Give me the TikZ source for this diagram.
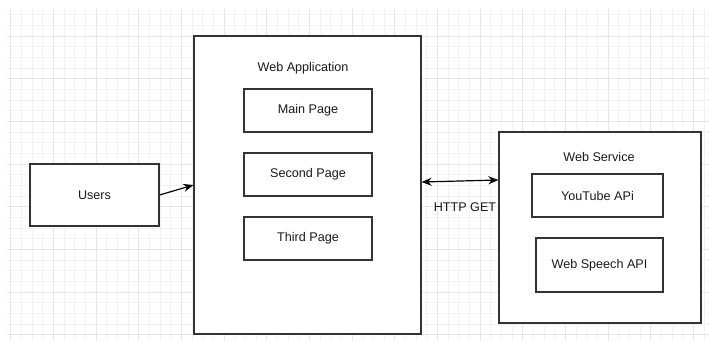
\documentclass[tikz,border=0pt]{standalone}
\usepackage{fontspec}
\setmainfont{Liberation Sans}
\usetikzlibrary{arrows.meta}
\definecolor{boxline}{HTML}{333333}
\definecolor{gridminor}{HTML}{F2F2F2}
\definecolor{gridmajor}{HTML}{E6E6E6}
\definecolor{txt}{HTML}{1A1A1A}
\tikzset{
  box/.style={draw=boxline, line width=1.2pt, fill=white, inner sep=0pt, text=txt, font=\fontsize{12.6}{15}\selectfont},
  lbl/.style={inner sep=0pt, text=txt, font=\fontsize{12.6}{15}\selectfont},
  arr/.style={line width=1.2pt, -{Stealth[length=10pt,width=8pt]}},
  biarr/.style={line width=1.2pt, {Stealth[length=10pt,width=8pt]}-{Stealth[length=10pt,width=8pt]}},
}
\begin{document}
\begin{tikzpicture}[x=1pt,y=-1pt]
\useasboundingbox (0,0) rectangle (709,341);
\fill[white] (0,0) rectangle (709,341);
% grid
\begin{scope}
\clip (7,8) rectangle (709,341);
\foreach \k in {0,...,67} {
  \pgfmathsetmacro{\xx}{10.667*\k}
  \draw[gridminor, line width=0.7pt] (\xx,8) -- (\xx,341);
}
\foreach \k in {-1,...,32} {
  \pgfmathsetmacro{\yy}{14.7+10.667*\k}
  \draw[gridminor, line width=0.7pt] (7,\yy) -- (709,\yy);
}
\foreach \k in {0,...,17} {
  \pgfmathsetmacro{\xx}{10.667+42.667*\k}
  \draw[gridmajor, line width=0.8pt] (\xx,8) -- (\xx,341);
}
\foreach \k in {-1,...,8} {
  \pgfmathsetmacro{\yy}{36+42.667*\k}
  \draw[gridmajor, line width=0.8pt] (7,\yy) -- (709,\yy);
}
\end{scope}
% nodes
\node[box, minimum width=129pt, minimum height=62pt] (users) at (94.5,195) {Users};
\node[box, minimum width=227pt, minimum height=298pt] (webapp) at (307.5,185) {};
\node[lbl] (webapplbl) at (303,68) {Web Application};
\node[box, minimum width=128pt, minimum height=43pt] (main) at (308,110.5) {Main Page};
\node[box, minimum width=128pt, minimum height=43pt] (second) at (308,174.5) {Second Page};
\node[box, minimum width=128pt, minimum height=43pt] (third) at (308,238.5) {Third Page};
\node[box, minimum width=202pt, minimum height=191pt] (websvc) at (600,227.5) {};
\node[lbl] (websvclbl) at (599,157) {Web Service};
\node[box, minimum width=131pt, minimum height=43pt] (yt) at (597.5,195.5) {YouTube APi};
\node[box, minimum width=127pt, minimum height=54pt] (speech) at (599.5,265) {Web Speech API};
\node[lbl] (http) at (465,207) {HTTP GET};
% connectors
\draw[arr] (users.east) -- (webapp.west);
\draw[biarr] ([yshift=3pt]webapp.east) -- ([yshift=47.5pt]websvc.west);
\end{tikzpicture}
\end{document}
